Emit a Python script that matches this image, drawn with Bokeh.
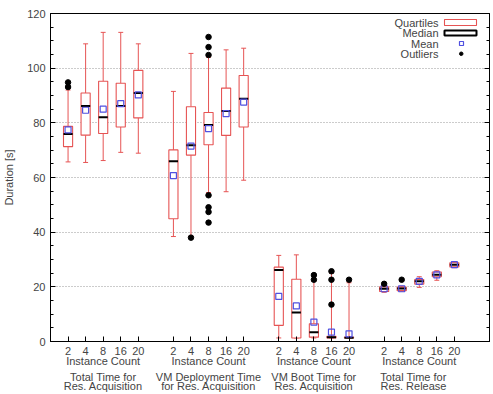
from bokeh.plotting import figure
from bokeh.models import (Range1d, FixedTicker, SingleIntervalTicker, LinearAxis,
                          Label, BoxAnnotation)
from bokeh.embed import file_html
from bokeh.resources import INLINE

# Instance counts per group and the four measured durations
instance_counts = ["2", "4", "8", "16", "20"]
count_caption = "Instance Count"
title_line1 = ["Total Time for", "VM Deployment Time", "VM Boot Time for", "Total Time for"]
title_line2 = ["Res. Acquisition", "for Res. Acquisition", "Res. Acquisition", "Res. Release"]

# Box statistics (seconds), one entry per instance count, grouped
whisker_low = [
    [65.7, 65.5, 66.2, 69.2, 68.9],
    [38.4, 38.5, 54.5, 54.8, 59.0],
    [1.3, 1.3, 1.3, 1.3, 1.3],
    [18.0, 18.4, 19.8, 22.4, 27.0],
]
q1 = [
    [71.3, 75.5, 76.1, 78.5, 81.8],
    [44.9, 68.2, 72.0, 75.4, 78.5],
    [5.9, 1.3, 1.6, 1.3, 1.3],
    [18.3, 18.6, 21.0, 23.7, 27.3],
]
median = [
    [75.9, 86.2, 82.0, 86.2, 90.9],
    [65.9, 71.8, 79.2, 84.3, 88.8],
    [26.2, 10.6, 3.4, 1.6, 1.4],
    [19.3, 19.4, 22.0, 24.4, 28.1],
]
q3 = [
    [78.7, 90.9, 95.2, 94.5, 99.2],
    [70.1, 85.9, 83.8, 92.7, 97.3],
    [27.2, 22.8, 6.5, 1.9, 1.6],
    [20.0, 19.9, 22.7, 25.4, 28.8],
]
whisker_high = [
    [92.0, 108.9, 113.1, 113.1, 108.9],
    [91.5, 105.4, 104.0, 106.7, 107.3],
    [31.5, 31.7, 22.0, 25.0, 21.5],
    [20.4, 20.2, 23.7, 25.9, 29.0],
]
mean = [
    [77.4, 84.6, 85.0, 87.0, 90.2],
    [60.7, 71.5, 77.9, 83.4, 87.6],
    [16.5, 13.0, 7.1, 3.4, 2.8],
    [19.3, 19.3, 22.0, 24.4, 28.1],
]
outliers = [
    [[93.1, 94.8], [], [], [], []],
    [[], [38.0], [104.8, 107.7, 111.4, 53.5, 49.1, 47.4, 43.5], [], []],
    [[], [], [22.6, 24.3], [13.5, 22.6, 25.7], [22.6]],
    [[21.1], [22.6], [], [], []],
]

RED = "#e65454"
BLUE = "#5050e0"
FONT = "Liberation Sans"
FS = "11px"
BOX_W = 0.52
CAP_W = 0.28

# x positions: five slots per group, one empty slot between groups
positions = [[g * 6 + i + 1 for i in range(5)] for g in range(4)]
flat_pos = [x for grp in positions for x in grp]
centers = [sum(grp) / len(grp) for grp in positions]
# the two title lines of the last group sit slightly left of its centre
title_centers = centers[:3] + [centers[3] - 0.33]

p = figure(width=493, height=394, frame_width=439, frame_height=328,
           min_border_left=49, min_border_right=5, min_border_top=13,
           min_border_bottom=0, x_range=Range1d(0, 25), y_range=Range1d(0, 120),
           output_backend="svg", toolbar_location=None, x_axis_type=None)
p.background_fill_color = "white"
p.border_fill_color = "white"
p.outline_line_color = "black"
p.outline_line_width = 1

# Y axis
yax = p.yaxis[0]
yax.ticker = SingleIntervalTicker(interval=20, num_minor_ticks=4)
yax.axis_label = "Duration [s]"
yax.axis_label_text_font = FONT
yax.axis_label_text_font_size = FS
yax.axis_label_text_font_style = "normal"
yax.axis_label_standoff = 9
yax.major_label_text_font = FONT
yax.major_label_text_font_size = FS
yax.major_label_standoff = 5
yax.major_tick_in = 5
yax.major_tick_out = 0
yax.minor_tick_in = 3
yax.minor_tick_out = 0
yax.axis_line_color = "black"

# Mirrored ticks on the right edge, no labels
rticks = list(range(0, 121, 20))
rax = LinearAxis(ticker=SingleIntervalTicker(interval=20, num_minor_ticks=4),
                 major_label_overrides={t: "" for t in rticks},
                 major_label_text_color=None, major_label_text_font_size="1px",
                 major_label_standoff=0,
                 major_tick_in=5, major_tick_out=0, minor_tick_in=3, minor_tick_out=0,
                 axis_line_color="black")
p.add_layout(rax, "right")

# Bottom axis with instance counts under every box
xax = LinearAxis(ticker=FixedTicker(ticks=flat_pos, minor_ticks=[]),
                 major_label_overrides={x: instance_counts[i % 5] for i, x in enumerate(flat_pos)},
                 major_label_text_font=FONT, major_label_text_font_size=FS,
                 major_label_standoff=5, major_tick_in=5, major_tick_out=0,
                 axis_line_color="black")
p.add_layout(xax, "below")


def caption_axis(ticks, texts, standoff):
    return LinearAxis(ticker=FixedTicker(ticks=ticks, minor_ticks=[]),
                      major_label_overrides={c: t for c, t in zip(ticks, texts)},
                      major_label_text_font=FONT, major_label_text_font_size=FS,
                      major_label_standoff=standoff, major_tick_in=0, major_tick_out=0,
                      minor_tick_in=0, minor_tick_out=0, axis_line_color=None)


# Group captions stacked under the counts
p.add_layout(caption_axis(centers, [count_caption] * 4, -3), "below")
p.add_layout(caption_axis(title_centers, title_line1, 1), "below")
p.add_layout(caption_axis(title_centers, title_line2, -6), "below")

p.xgrid.visible = False
p.ygrid.grid_line_color = "#999999"
p.ygrid.grid_line_dash = "1 2"
p.ygrid.grid_line_width = 1

for g in range(4):
    xs = positions[g]
    lo, a, m, b, hi, mu = whisker_low[g], q1[g], median[g], q3[g], whisker_high[g], mean[g]
    left = [x - BOX_W / 2 for x in xs]
    right = [x + BOX_W / 2 for x in xs]
    # whiskers and caps
    p.segment(x0=xs, y0=b, x1=xs, y1=hi, line_color=RED, line_width=1)
    p.segment(x0=xs, y0=a, x1=xs, y1=lo, line_color=RED, line_width=1)
    p.segment(x0=[x - CAP_W / 2 for x in xs], y0=hi, x1=[x + CAP_W / 2 for x in xs], y1=hi,
              line_color=RED, line_width=1)
    p.segment(x0=[x - CAP_W / 2 for x in xs], y0=lo, x1=[x + CAP_W / 2 for x in xs], y1=lo,
              line_color=RED, line_width=1)
    # quartile boxes
    p.quad(left=left, right=right, bottom=a, top=b, fill_color="white",
           line_color=RED, line_width=1.1)
    # medians
    p.segment(x0=left, y0=m, x1=right, y1=m, line_color="black", line_width=2)
    # means
    p.scatter(x=xs, y=mu, marker="square", size=6, fill_color=None,
              line_color=BLUE, line_width=1.2)
    # outliers
    ox, oy = [], []
    for x, vals in zip(xs, outliers[g]):
        ox += [x] * len(vals)
        oy += vals
    p.scatter(x=ox, y=oy, marker="circle", size=5.5, fill_color="black", line_color="black")

# Key in the upper right corner: text on the left, sample on the right
key_names = ["Quartiles", "Median", "Mean", "Outliers"]
key_y = [319, 308.5, 298, 287.5]
for name, ky in zip(key_names, key_y):
    p.add_layout(Label(x=388, y=ky, x_units="screen", y_units="screen", text=name,
                       text_align="right", text_baseline="middle",
                       text_font=FONT, text_font_size=FS))


def key_box(l, r, b, t, **kw):
    return BoxAnnotation(left=l, right=r, bottom=b, top=t,
                         left_units="screen", right_units="screen",
                         bottom_units="screen", top_units="screen",
                         line_alpha=1, fill_alpha=1, **kw)


p.add_layout(key_box(394, 426, 316, 322, fill_color="white", line_color=RED, line_width=1.1))
p.add_layout(key_box(394, 426, 306, 311, fill_color="white", line_color="black", line_width=2))
p.add_layout(key_box(409, 413, 296, 300, fill_color="white", line_color=BLUE, line_width=1.2))
p.add_layout(key_box(409, 412.5, 286, 289.5, fill_color="black", line_color="black",
                     border_radius=2))

open("out.html", "w").write(file_html(p, INLINE))
